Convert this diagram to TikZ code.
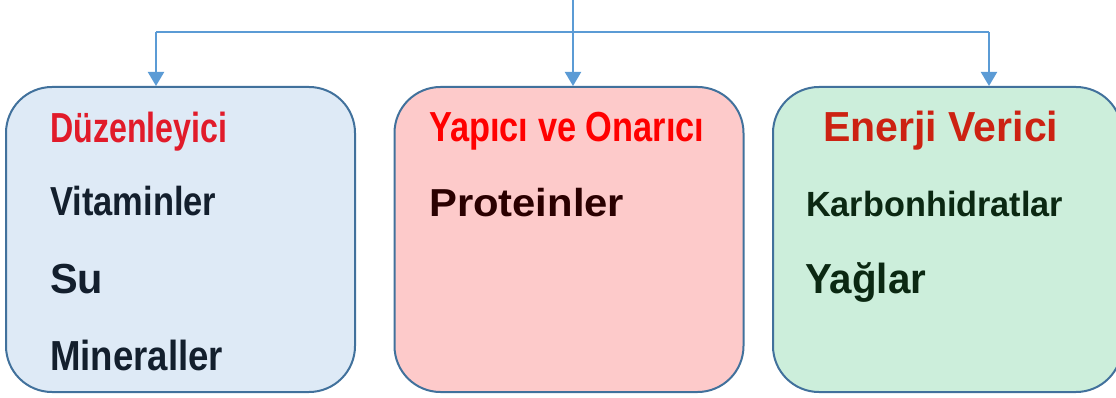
\documentclass[tikz,border=0pt]{standalone}
\usepackage{fontspec}
\setmainfont{Liberation Sans}
\usepackage{xcolor}
\usetikzlibrary{arrows.meta}
\definecolor{hatmavi}{HTML}{5B9BD5}
\definecolor{kenar}{HTML}{41719C}
\definecolor{mavizemin}{HTML}{DEEAF6}
\definecolor{pembezemin}{HTML}{FDCACA}
\definecolor{yesilzemin}{HTML}{CCEEDB}
\definecolor{kirmizi1}{HTML}{E11B2A}
\definecolor{kirmizi2}{HTML}{FF0000}
\definecolor{kirmizi3}{HTML}{CC2212}
\definecolor{koyumavi}{HTML}{131F2D}
\definecolor{koyukahve}{HTML}{2A0000}
\definecolor{koyuyesil}{HTML}{0B2812}
\tikzstyle{kutu} = [draw=kenar,line width=2pt,rounded corners=46pt,minimum width=349pt,minimum height=305pt,inner sep=0pt]
\tikzstyle{hat} = [line width=2pt,draw=hatmavi]
\tikzstyle{ok} = [hat,-{Triangle[width=16pt,length=14pt]}]

\begin{document}
\begin{tikzpicture}[x=1pt,y=-1pt]
	\useasboundingbox (0,0) rectangle (1116,398);
	\node[kutu,fill=mavizemin] (duzen) at (180.5,239.5) {};
	\node[kutu,fill=pembezemin] (yapici) at (569,239.5) {};
	\node[kutu,fill=yesilzemin] (enerji) at (947.5,239.5) {};
	% baglantilar
	\coordinate (ust) at (573,0);
	\coordinate (sol) at (156,32);
	\coordinate (sag) at (989,32);
	\draw[hat] (sol) -- (sag);
	\draw[ok] (ust) -- (ust |- yapici.north);
	\draw[ok] (sol) -- (sol |- duzen.north);
	\draw[ok] (sag) -- (sag |- enerji.north);
	% yazilar
	\foreach \Ad/\Xc/\Yc/\Sz/\Wd/\Renk/\Texto in 
	{b1/50/142.5/42/177/kirmizi1/Düzenleyici,
	 v/50/215/40.5/166/koyumavi/Vitaminler,
	 s/50/293/42/53/koyumavi/Su,
	 m/50/370/42/173/koyumavi/Mineraller,
	 b2/429/142/42/275/kirmizi2/Yapıcı ve Onarıcı,
	 p/429/216/39/195/koyukahve/Proteinler,
	 b3/823/142/42/235/kirmizi3/Enerji Verici,
	 k/806/217/35/257/koyuyesil/Karbonhidratlar,
	 y/805/293/42/121/koyuyesil/Yağlar}
	{
		\node[anchor=base west,inner sep=0pt,text=\Renk] (\Ad) at (\Xc,\Yc)
		{\resizebox{\Wd pt}{\height}{\fontsize{\Sz}{\Sz}\selectfont\bfseries\Texto}};
	}
\end{tikzpicture}
\end{document}
